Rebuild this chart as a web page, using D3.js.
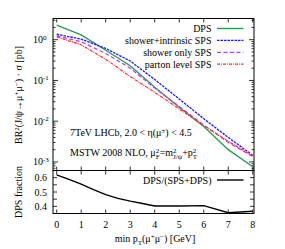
<!DOCTYPE html>
<html>
<head>
<meta charset="utf-8">
<script src="https://cdn.jsdelivr.net/npm/d3@7.9.0/dist/d3.min.js"></script>
<style>
  body { margin: 0; background: #fff; }
  text { font-family: "Liberation Serif", "DejaVu Serif", serif; font-size: 10px; fill: #000; }
</style>
</head>
<body>
<svg id="chart" width="285" height="249"></svg>
<script>
// pT thresholds [GeV]
const ptMin = [0, 1, 2, 3, 4, 5, 6, 7, 8];

// cross sections [pb]
const dps = [2.29, 1.31, 0.55, 0.23, 0.068, 0.022, 0.0074, 0.0020, 0.00076];
const showerIntrinsic = [1.36, 1.03, 0.61, 0.30, 0.105, 0.035, 0.0115, 0.0040, 0.00145];
const showerOnly = [1.24, 0.89, 0.46, 0.20, 0.065, 0.023, 0.0081, 0.0030, 0.00135];
const partonLevel = [1.17, 0.75, 0.33, 0.125, 0.051, 0.020, 0.0078, 0.0032, 0.0014];

// DPS fraction (lower panel)
const fracPt = [0, 0.5, 1, 1.5, 2, 2.5, 3, 3.5, 4, 5, 6, 7, 8];
const dpsFraction = [0.62, 0.588, 0.555, 0.517, 0.482, 0.456, 0.436, 0.42, 0.402, 0.402, 0.405, 0.355, 0.366];

const xTicks = [0, 1, 2, 3, 4, 5, 6, 7, 8];
const yTicksTop = [1e-3, 1e-2, 1e-1, 1];
const yTicksBottom = [0.4, 0.5, 0.6];

const series = [
  { name: 'DPS', values: dps, color: '#2e9a55', dash: null, width: 1.4 },
  { name: 'shower+intrinsic SPS', values: showerIntrinsic, color: '#1a1aff', dash: '2.5,1', width: 1.3 },
  { name: 'shower only SPS', values: showerOnly, color: '#b040f0', dash: '4,2.5', width: 1.2 },
  { name: 'parton level SPS', values: partonLevel, color: '#ff2a2a', dash: '3,1,1,1', width: 1.2 }
];

const svg = d3.select('#chart');
const pLeft = 53, pRight = 254, pTop = 18.5, pMid = 170.5, pBottom = 213.5;

const x = d3.scaleLinear().domain([-0.15, 8.05]).range([pLeft, pRight]);
const yTop = d3.scaleLog().domain([Math.pow(10, -3.21), Math.pow(10, 0.52)]).range([pMid, pTop]);
const yBot = d3.scaleLinear().domain([0.35, 0.65]).range([pBottom, pMid]);

// text with sub/superscripts: parts = [[str, 'sup'|'sub'|undefined, dx], ...]
function rich(g, parts, attrs) {
  const t = g.append('text');
  Object.entries(attrs).forEach(([k, v]) => t.attr(k, v));
  let shift = 0;
  parts.forEach(([s, kind, dx]) => {
    const target = kind === 'sup' ? -3.5 : kind === 'sub' ? 2.5 : 0;
    t.append('tspan')
      .attr('dy', target - shift)
      .attr('dx', dx || null)
      .style('font-size', kind ? '7px' : null)
      .text(s);
    shift = target;
  });
  return t;
}

svg.append('clipPath').attr('id', 'clipTop')
  .append('rect').attr('x', pLeft).attr('y', pTop).attr('width', pRight - pLeft).attr('height', pMid - pTop);
svg.append('clipPath').attr('id', 'clipBot')
  .append('rect').attr('x', pLeft).attr('y', pMid).attr('width', pRight - pLeft).attr('height', pBottom - pMid);

// ---- ticks (inward, on all sides) ----
const tk = svg.append('g').attr('stroke', '#000').attr('stroke-width', 0.8);
xTicks.forEach((v) => {
  const px = x(v);
  [[pTop, 4], [pMid, -4], [pMid, 4], [pBottom, -4]].forEach(([y0, d]) => {
    tk.append('line').attr('x1', px).attr('x2', px).attr('y1', y0).attr('y2', y0 + d);
  });
});
// log ticks, major + minor
for (let e = -4; e <= 0; e++) {
  for (let m = 1; m <= 9; m++) {
    const v = m * Math.pow(10, e);
    const py = yTop(v);
    if (py < pTop || py > pMid) continue;
    const len = m === 1 ? 5 : 2.5;
    tk.append('line').attr('x1', pLeft).attr('x2', pLeft + len).attr('y1', py).attr('y2', py);
    tk.append('line').attr('x1', pRight).attr('x2', pRight - len).attr('y1', py).attr('y2', py);
  }
}
d3.range(0.4, 0.65, 0.05).forEach((v) => {
  const py = yBot(v);
  tk.append('line').attr('x1', pLeft).attr('x2', pLeft + 4).attr('y1', py).attr('y2', py);
  tk.append('line').attr('x1', pRight).attr('x2', pRight - 4).attr('y1', py).attr('y2', py);
});

// ---- tick labels ----
yTicksTop.forEach((v) => {
  const e = Math.round(Math.log10(v));
  rich(svg, [['10'], [e === 0 ? '0' : '-' + Math.abs(e), 'sup']],
    { x: pLeft - 20, y: yTop(v) + 3.5 });
});
yTicksBottom.forEach((v) => {
  svg.append('text').attr('x', pLeft - 6).attr('y', yBot(v) + 3.5)
    .attr('text-anchor', 'end').text(d3.format('.1f')(v));
});
xTicks.forEach((v) => {
  svg.append('text').attr('x', x(v)).attr('y', pBottom + 14)
    .attr('text-anchor', 'middle').text(v);
});

// ---- curves ----
const gTop = svg.append('g').attr('clip-path', 'url(#clipTop)');
series.forEach((s) => {
  const line = d3.line().x((d, i) => x(ptMin[i])).y((d) => yTop(d));
  gTop.append('path')
    .attr('d', line(s.values))
    .attr('fill', 'none')
    .attr('stroke', s.color)
    .attr('stroke-width', s.width)
    .attr('stroke-dasharray', s.dash);
});
const gBot = svg.append('g').attr('clip-path', 'url(#clipBot)');
gBot.append('path')
  .attr('d', d3.line().x((d, i) => x(fracPt[i])).y((d) => yBot(d))(dpsFraction))
  .attr('fill', 'none')
  .attr('stroke', '#000')
  .attr('stroke-width', 1.4);

// ---- frames ----
svg.append('rect').attr('x', pLeft).attr('y', pTop).attr('width', pRight - pLeft).attr('height', pMid - pTop)
  .attr('fill', 'none').attr('stroke', '#000').attr('stroke-width', 1);
svg.append('rect').attr('x', pLeft).attr('y', pMid).attr('width', pRight - pLeft).attr('height', pBottom - pMid)
  .attr('fill', 'none').attr('stroke', '#000').attr('stroke-width', 1);

// ---- legends ----
series.forEach((s, i) => {
  const ly = 28.5 + i * 11.9;
  svg.append('text').attr('x', 211.5).attr('y', ly + 3.5).attr('text-anchor', 'end').text(s.name);
  svg.append('line').attr('x1', 217).attr('x2', 243.5).attr('y1', ly).attr('y2', ly)
    .attr('stroke', s.color).attr('stroke-width', s.width).attr('stroke-dasharray', s.dash);
});
svg.append('text').attr('x', 211.5).attr('y', 183.5).attr('text-anchor', 'end').text('DPS/(SPS+DPS)');
svg.append('line').attr('x1', 217).attr('x2', 243.5).attr('y1', 180).attr('y2', 180)
  .attr('stroke', '#000').attr('stroke-width', 1.4);

// ---- annotations ----
rich(svg, [['7TeV LHCb, 2.0 < \u03b7(\u03bc'], ['\u00b1', 'sup'], [') < 4.5']], { x: 70, y: 136 });
rich(svg, [['MSTW 2008 NLO, \u03bc'], ['2', 'sup'], ['F', 'sub', -3.5], ['=m'], ['2', 'sup'], ['J/\u03c8', 'sub', -3.5],
  ['+p'], ['2', 'sup'], ['T', 'sub', -3.5]], { x: 70, y: 156 });

// ---- axis titles ----
rich(svg, [['min p'], ['T', 'sub'], ['(\u03bc'], ['+', 'sup'], ['\u03bc'], ['\u2212', 'sup'], [') [GeV]']],
  { x: 155, y: 242, 'text-anchor': 'middle' });
rich(svg, [['BR'], ['2', 'sup'], ['(J/\u03c8\u2192\u03bc'], ['+', 'sup'], ['\u03bc'], ['\u2212', 'sup'], [') \u00b7 \u03c3 [pb]']],
  { transform: 'translate(22,95) rotate(-90)', 'text-anchor': 'middle' });
svg.append('text').attr('transform', 'translate(22,192) rotate(-90)')
  .attr('text-anchor', 'middle').text('DPS fraction');
</script>
</body>
</html>
